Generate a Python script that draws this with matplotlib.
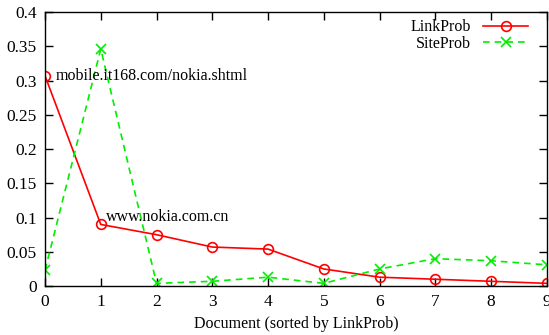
import numpy as np
import matplotlib.pyplot as plt

plt.rcParams['font.family'] = ['Liberation Serif', 'DejaVu Serif']
plt.rcParams['font.size'] = 11.5

docs = np.arange(10)
link_prob = [0.307, 0.090, 0.075, 0.057, 0.054, 0.025, 0.013, 0.010, 0.007, 0.004]
site_prob = [0.023, 0.346, 0.004, 0.007, 0.013, 0.004, 0.025, 0.040, 0.037, 0.031]
notes = [(0, "mobile.it168.com/nokia.shtml"), (1, "www.nokia.com.cn")]

fig = plt.figure(figsize=(5.49, 3.35), dpi=100)
ax = fig.add_axes([0.082, 0.146, 0.914, 0.818])

ax.plot(docs, link_prob, color='#ff0000', lw=1.2, marker='o', ms=7,
        mfc='none', mew=1.2, label='LinkProb')
ax.plot(docs, site_prob, color='#00ee00', lw=1.2, ls=(0, (4, 3)), marker='x',
        ms=7, mew=1.2, label='SiteProb')

ax.text(notes[0][0] + 0.2, link_prob[0], notes[0][1], va='center')
ax.text(notes[1][0] + 0.1, 0.101, notes[1][1], va='center')

ax.set_xlim(0, 9)
ax.set_ylim(0, 0.4)
ax.set_xticks(docs)
ax.set_yticks(np.arange(0, 0.41, 0.05))
ax.set_yticklabels(['0', '0.05', '0.1', '0.15', '0.2', '0.25', '0.3', '0.35', '0.4'])
ax.tick_params(direction='in', top=True, right=True, length=6, width=1, pad=6,
               labelsize=12.5)
for s in ax.spines.values():
    s.set_linewidth(1)
ax.set_xlabel('Document (sorted by LinkProb)', labelpad=4)

ax.legend(loc='upper right', frameon=False, markerfirst=False, handlelength=2.8,
          borderaxespad=0.3, labelspacing=0.05, handletextpad=0.8,
          bbox_to_anchor=(0.985, 1.015))

fig.savefig('out.png', dpi=100)
